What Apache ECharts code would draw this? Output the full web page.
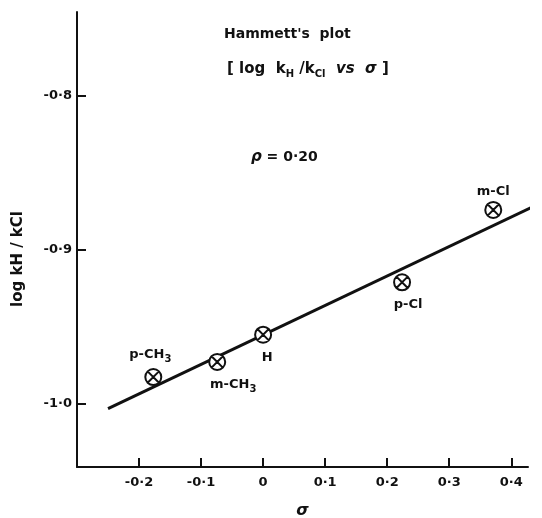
<!DOCTYPE html>
<html>
<head>
<meta charset="utf-8">
<script src="https://cdn.jsdelivr.net/npm/echarts@6/dist/echarts.min.js"></script>
<style>
  html, body { margin: 0; padding: 0; background: #fff; }
  #chart { width: 542px; height: 518px; }
</style>
</head>
<body>
<div id="chart"></div>
<script>
// substituents and their points (sigma, log kH/kCl)
var substituents = ['p-CH3', 'm-CH3', 'H', 'p-Cl', 'm-Cl'];
var sigma = [-0.177, -0.074, 0, 0.224, 0.371];
var logRatio = [-0.9825, -0.9727, -0.955, -0.921, -0.874];

// least squares line, rho = 0.20
var fitSigma = [-0.25, 0.45];
var fitLog = [-1.003, -0.869];

var xTicks = [-0.2, -0.1, 0, 0.1, 0.2, 0.3, 0.4];
var xTickLabels = ['-0·2', '-0·1', '0', '0·1', '0·2', '0·3', '0·4'];
var yTicks = [-1.0, -0.9, -0.8];
var yTickLabels = ['-1·0', '-0·9', '-0·8'];

var FONT = 'DejaVu Sans';
var INK = '#111';

function tickLabel(ticks, labels) {
    return function (v) {
        for (var i = 0; i < ticks.length; i++) {
            if (Math.abs(ticks[i] - v) < 1e-6) return labels[i];
        }
        return '';
    };
}

// label offsets around each marker
var labelOffsets = [[-3, -22], [16, 23], [4, 23], [6, 22], [0, -18]];
var labelText = ['p-CH{s|3}', 'm-CH{s|3}', 'H', 'p-Cl', 'm-Cl'];

var points = [];
for (var i = 0; i < substituents.length; i++) {
    points.push({
        name: substituents[i],
        value: [sigma[i], logRatio[i]],
        label: {
            show: true,
            position: 'inside',
            offset: labelOffsets[i],
            formatter: labelText[i]
        }
    });
}

var fitLine = fitSigma.map(function (s, i) { return [s, fitLog[i]]; });

var chart = echarts.init(document.getElementById('chart'));

var option = {
    animation: false,
    backgroundColor: '#fff',
    title: [
        {
            text: "Hammett's  plot",
            left: 219,
            top: 22,
            textStyle: { fontFamily: FONT, fontSize: 14, fontWeight: 'bold', color: INK }
        },
        {
            text: '{a|[ log  k}{s|H}{a| /k}{s|Cl}{i|  vs  σ }{a|]}',
            left: 222,
            top: 54,
            textStyle: {
                fontFamily: FONT,
                rich: {
                    a: { fontFamily: FONT, fontSize: 15, fontWeight: 'bold', color: INK, lineHeight: 20 },
                    i: { fontFamily: FONT, fontSize: 15, fontWeight: 'bold', fontStyle: 'italic', color: INK, lineHeight: 20 },
                    s: { fontFamily: FONT, fontSize: 10, fontWeight: 'bold', color: INK, padding: [10, 0, 0, 0] }
                }
            }
        },
        {
            text: '{i|ρ}{a| = 0·20}',
            left: 246,
            top: 145,
            textStyle: {
                rich: {
                    a: { fontFamily: FONT, fontSize: 14, fontWeight: 'bold', color: INK },
                    i: { fontFamily: FONT, fontSize: 15, fontWeight: 'bold', fontStyle: 'italic', color: INK }
                }
            }
        }
    ],
    graphic: [
        {
            type: 'text',
            x: 18,
            y: 259,
            rotation: Math.PI / 2,
            style: {
                text: 'log kH / kCl',
                fontFamily: FONT,
                fontSize: 15,
                fontWeight: 'bold',
                fill: INK,
                align: 'center',
                verticalAlign: 'middle'
            }
        }
    ],
    grid: {
        left: 77,
        right: 14,
        top: 12,
        bottom: 51,
        outerBoundsMode: 'none'
    },
    xAxis: {
        type: 'value',
        min: -0.3,
        max: 0.427,
        name: 'σ',
        nameLocation: 'middle',
        nameGap: 36,
        nameTextStyle: { fontFamily: FONT, fontSize: 16, fontWeight: 'bold', fontStyle: 'italic', color: INK },
        axisLine: { show: true, onZero: false, lineStyle: { color: INK, width: 2 } },
        axisTick: { show: true, inside: true, length: 9, customValues: xTicks, lineStyle: { color: INK, width: 2 } },
        axisLabel: {
            customValues: xTicks,
            formatter: tickLabel(xTicks, xTickLabels),
            margin: 9,
            fontFamily: FONT,
            fontSize: 13,
            fontWeight: 'bold',
            color: INK
        },
        splitLine: { show: false }
    },
    yAxis: {
        type: 'value',
        min: -1.0409,
        max: -0.7455,
        axisLine: { show: true, onZero: false, lineStyle: { color: INK, width: 2 } },
        axisTick: { show: true, inside: true, length: 9, customValues: yTicks, lineStyle: { color: INK, width: 2 } },
        axisLabel: {
            customValues: yTicks,
            formatter: tickLabel(yTicks, yTickLabels),
            margin: 5,
            fontFamily: FONT,
            fontSize: 13,
            fontWeight: 'bold',
            color: INK
        },
        splitLine: { show: false }
    },
    series: [
        {
            name: 'fit',
            type: 'line',
            data: fitLine,
            showSymbol: false,
            clip: false,
            silent: true,
            z: 1,
            lineStyle: { color: INK, width: 3 }
        },
        {
            name: 'substituents',
            type: 'scatter',
            data: points,
            z: 3,
            symbol: 'path://M10 0A10 10 0 1 1 -10 0A10 10 0 1 1 10 0ZM-7.07 -7.07L7.07 7.07M7.07 -7.07L-7.07 7.07',
            symbolSize: 16,
            itemStyle: { color: '#fff', borderColor: INK, borderWidth: 2, opacity: 1 },
            label: {
                color: INK,
                fontFamily: FONT,
                fontSize: 13,
                fontWeight: 'bold',
                rich: {
                    s: { fontFamily: FONT, fontSize: 10, fontWeight: 'bold', color: INK, padding: [9, 0, 0, 0] }
                }
            }
        }
    ]
};

chart.setOption(option);
</script>
</body>
</html>
